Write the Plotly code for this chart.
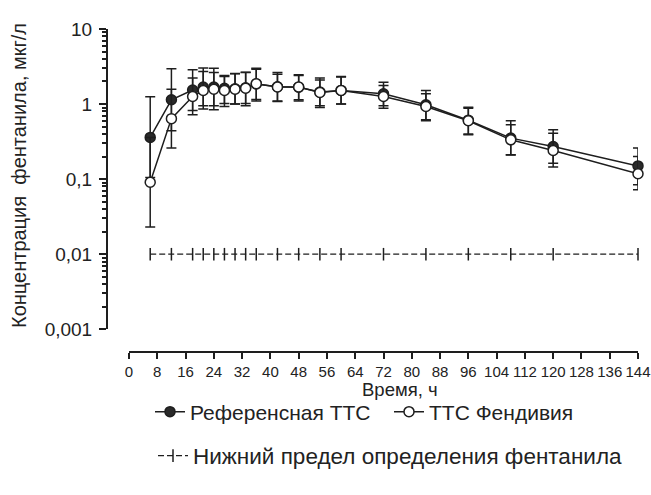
import plotly.graph_objects as go

# ---- data ----
times = [6, 12, 18, 21, 24, 27, 30, 33, 36, 42, 48, 54, 60, 72, 84, 96, 108, 120, 144]

ref_mean  = [0.36, 1.14, 1.54, 1.69, 1.69, 1.62, 1.60, 1.65, 1.85, 1.70, 1.68, 1.45, 1.52, 1.37, 0.98, 0.61, 0.352, 0.272, 0.150]
ref_upper = [1.25, 2.96, 2.87, 3.02, 3.00, 2.40, 2.55, 2.65, 3.00, 2.64, 2.46, 2.22, 2.33, 1.96, 1.52, 0.91, 0.60, 0.454, 0.259]
ref_lower = [0.105, 0.44, 0.82, 0.95, 0.95, 1.02, 1.00, 1.02, 1.15, 1.08, 1.14, 0.95, 1.00, 0.95, 0.62, 0.40, 0.211, 0.163, 0.084]

fen_mean  = [0.091, 0.64, 1.26, 1.52, 1.58, 1.52, 1.58, 1.63, 1.87, 1.69, 1.69, 1.43, 1.52, 1.26, 0.93, 0.60, 0.334, 0.241, 0.118]
fen_upper = [0.36, 1.58, 2.22, 2.72, 2.64, 2.33, 2.53, 2.64, 2.90, 2.50, 2.40, 2.10, 2.30, 1.77, 1.37, 0.88, 0.53, 0.41, 0.20]
fen_lower = [0.023, 0.26, 0.72, 0.86, 0.84, 0.93, 1.00, 0.95, 1.10, 1.10, 1.10, 0.90, 1.00, 0.88, 0.60, 0.39, 0.21, 0.145, 0.072]

lloq_value = 0.01
lloq = [lloq_value for _ in times]

x_ticks = list(range(0, 145, 8))
y_tickvals = [0.001, 0.01, 0.1, 1, 10]
y_ticktext = ["0,001", "0,01", "0,1", "1", "10"]

names = ["Референсная ТТС", "ТТС Фендивия", "Нижний предел определения фентанила"]
x_title = "Время, ч"
y_title = "Концентрация\u00a0\u00a0фентанила, мкг/л"

INK = "#1e1e1e"
FONT = "Arial, Liberation Sans, sans-serif"

# minor tick positions of the log axis (2..9 within each decade)
y_minor = [m * d for d in [0.001, 0.01, 0.1, 1] for m in range(2, 10)]

def err(mean, up, lo):
    return dict(type="data", symmetric=False,
                array=[u - m for u, m in zip(up, mean)],
                arrayminus=[m - l for m, l in zip(mean, lo)],
                color=INK, thickness=1.5, width=5)

fig = go.Figure()

fig.add_trace(go.Scatter(
    x=times, y=lloq, name=names[2], mode="lines+markers",
    line=dict(color=INK, width=1.3, dash="6px,3px"),
    marker=dict(symbol="line-ns", size=9, line=dict(color=INK, width=1.5)),
    legend="legend2", cliponaxis=False))

fig.add_trace(go.Scatter(
    x=times, y=ref_mean, name=names[0], mode="lines+markers",
    line=dict(color=INK, width=1.5),
    marker=dict(symbol="circle", size=10, color="#2a2a2a", line=dict(color=INK, width=1.5)),
    error_y=err(ref_mean, ref_upper, ref_lower),
    legend="legend", cliponaxis=False))

fig.add_trace(go.Scatter(
    x=times, y=fen_mean, name=names[1], mode="lines+markers",
    line=dict(color=INK, width=1.5),
    marker=dict(symbol="circle", size=10, color="white", line=dict(color=INK, width=1.5)),
    error_y=err(fen_mean, fen_upper, fen_lower),
    legend="legend", cliponaxis=False))

W, H = 651, 495
ml, mr, mt, mb = 107, 13, 29, 143
pw = W - ml - mr
ph = H - mt - mb

def px_x(p):
    return (p - ml) / pw

def px_y(p):
    return (H - mb - p) / ph

fig.update_layout(
    width=W, height=H,
    margin=dict(l=ml, r=mr, t=mt, b=mb, pad=0, autoexpand=False),
    paper_bgcolor="white", plot_bgcolor="white",
    font=dict(family=FONT, color="#222"),
    xaxis=dict(domain=[px_x(129), 1], anchor="free", position=0,
               range=[0, 144], tickmode="array", tickvals=x_ticks,
               tickangle=0, ticklabeloverflow="allow",
               showline=True, linecolor=INK, linewidth=2,
               ticks="outside", ticklen=6, tickwidth=2, tickcolor=INK,
               showgrid=False, zeroline=False,
               tickfont=dict(size=15, color="#222")),
    yaxis=dict(domain=[px_y(329.3), 1], anchor="free", position=0,
               type="log", range=[-3, 1],
               tickmode="array", tickvals=y_tickvals, ticktext=y_ticktext,
               showline=True, linecolor=INK, linewidth=2,
               ticks="outside", ticklen=7, tickwidth=2, tickcolor=INK,
               ticklabelstandoff=3,
               minor=dict(tickmode="array", tickvals=y_minor,
                          ticks="outside", ticklen=4, tickwidth=1.5, tickcolor=INK,
                          showgrid=False),
               showgrid=False, zeroline=False,
               tickfont=dict(size=19, color="#222")),
    showlegend=True,
    legend=dict(orientation="h", x=px_x(150), xanchor="left",
                y=px_y(412), yanchor="middle",
                font=dict(size=21, color="#222"), itemwidth=30,
                entrywidth=194, entrywidthmode="pixels",
                bgcolor="rgba(0,0,0,0)", traceorder="normal"),
    legend2=dict(orientation="h", x=px_x(153), xanchor="left",
                 y=px_y(456), yanchor="middle",
                 font=dict(size=22.5, color="#222"), itemwidth=30,
                 bgcolor="rgba(0,0,0,0)"),
    annotations=[
        dict(text=x_title, xref="paper", yref="paper",
             x=px_x(400), y=px_y(389), xanchor="center", yanchor="middle",
             showarrow=False, font=dict(size=18.5, color="#222")),
        dict(text=y_title, xref="paper", yref="paper",
             x=px_x(19), y=px_y(176), xanchor="center", yanchor="middle",
             textangle=-90, showarrow=False, font=dict(size=20, color="#222")),
    ],
)

fig.write_html("out.html", config={"displayModeBar": False},
               post_script="document.body.style.margin='0';document.body.style.padding='0';")
